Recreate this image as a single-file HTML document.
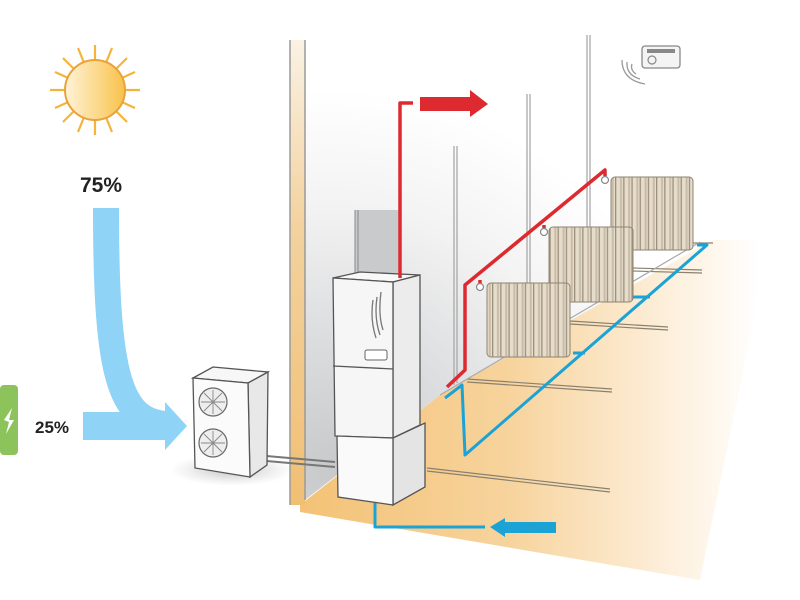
<!DOCTYPE html>
<html><head><meta charset="utf-8"><style>
html,body{margin:0;padding:0;background:#fff;}
svg{display:block;}
text{font-family:"Liberation Sans",Arial,sans-serif;font-weight:bold;fill:#222;}
</style></head><body>
<svg width="800" height="600" viewBox="0 0 800 600" xmlns="http://www.w3.org/2000/svg">
<defs>
<linearGradient id="sun" x1="0" y1="0" x2="1" y2="0"><stop offset="0" stop-color="#fff3d8"/><stop offset="1" stop-color="#f8c24a"/></linearGradient>
<radialGradient id="wall" cx="330" cy="470" r="380" gradientUnits="userSpaceOnUse"><stop offset="0" stop-color="#c8c9cb"/><stop offset="0.35" stop-color="#dcdddf"/><stop offset="0.7" stop-color="#f3f3f3"/><stop offset="1" stop-color="#ffffff"/></radialGradient>
<linearGradient id="floor" x1="300" y1="0" x2="760" y2="0" gradientUnits="userSpaceOnUse"><stop offset="0" stop-color="#f3c276"/><stop offset="0.45" stop-color="#f7d39c"/><stop offset="0.75" stop-color="#fcebd2"/><stop offset="1" stop-color="#ffffff"/></linearGradient>
<linearGradient id="strip" x1="0" y1="40" x2="0" y2="505" gradientUnits="userSpaceOnUse"><stop offset="0" stop-color="#faf2e4"/><stop offset="0.4" stop-color="#f3d29e"/><stop offset="1" stop-color="#f1bf74"/></linearGradient>
<radialGradient id="shadow" cx="0.5" cy="0.5" r="0.5"><stop offset="0" stop-color="#999" stop-opacity="0.6"/><stop offset="1" stop-color="#bbb" stop-opacity="0"/></radialGradient>
<pattern id="rad" width="8.2" height="10" patternUnits="userSpaceOnUse"><rect width="8.2" height="10" fill="#e6dccb"/><rect x="0" width="1.3" height="10" fill="#9c907c"/><rect x="5" width="2" height="10" fill="#c9bca6"/></pattern>
</defs>

<!-- wall -->
<polygon points="305,40 760,40 760,240 440,395 305,500" fill="url(#wall)"/>
<!-- floor -->
<polygon points="300,505 440,395 712,240 770,240 700,580 300,512" fill="url(#floor)"/>
<rect x="290" y="40" width="15" height="465" fill="url(#strip)"/>
<line x1="290" y1="40" x2="290" y2="505" stroke="#9a9a9a" stroke-width="1.5"/>
<line x1="305" y1="40" x2="305" y2="500" stroke="#9a9a9a" stroke-width="1.5"/>

<!-- vertical pipes -->
<g stroke="#a9a9a9" stroke-width="1.3">
<line x1="454" y1="146" x2="454" y2="385"/><line x1="457" y1="146" x2="457" y2="383"/>
<line x1="527" y1="94" x2="527" y2="290"/><line x1="530" y1="94" x2="530" y2="290"/>
<line x1="587" y1="35" x2="587" y2="230"/><line x1="590" y1="35" x2="590" y2="230"/>
</g>
<!-- floor lines -->
<g stroke="#8a8070" stroke-width="1.2">
<line x1="467" y1="379" x2="612" y2="389"/><line x1="467" y1="382" x2="612" y2="392"/>
<line x1="427" y1="468" x2="610" y2="489"/><line x1="427" y1="471" x2="610" y2="492"/>
<line x1="570" y1="321" x2="668" y2="327"/><line x1="570" y1="324" x2="668" y2="330"/>
<line x1="633" y1="268" x2="702" y2="270"/><line x1="633" y1="271" x2="702" y2="273"/>
<line x1="693" y1="243" x2="713" y2="243"/>
<line x1="440" y1="395" x2="700" y2="242" stroke="#aaa"/>
</g>

<!-- thermostat -->
<rect x="642" y="46" width="38" height="22" rx="3" fill="#f4f4f4" stroke="#888" stroke-width="1.3"/>
<rect x="647" y="49" width="28" height="4" fill="#888"/>
<circle cx="652" cy="60" r="4" fill="none" stroke="#888" stroke-width="1.2"/>
<g fill="none" stroke="#999" stroke-width="1.3">
<path d="M636,74 Q630,70 632,64"/><path d="M640,79 Q626,75 627,62"/><path d="M645,84 Q622,80 622,60"/>
</g>

<!-- sun -->
<g stroke="#f4b43c" stroke-width="2.2">
<line x1="95" y1="45" x2="95" y2="135"/><line x1="50" y1="90" x2="140" y2="90"/>
<line x1="63" y1="58" x2="127" y2="122"/><line x1="63" y1="122" x2="127" y2="58"/>
<line x1="78" y1="48" x2="112" y2="132"/><line x1="112" y1="48" x2="78" y2="132"/>
<line x1="55" y1="72" x2="135" y2="108"/><line x1="55" y1="108" x2="135" y2="72"/>
</g>
<circle cx="95" cy="90" r="30" fill="url(#sun)" stroke="#eaa23a" stroke-width="2"/>
<text x="80" y="192" font-size="21">75%</text>

<!-- blue arrows -->
<path d="M106,208 C106,370 118,420 165,424" fill="none" stroke="#8fd3f6" stroke-width="26"/>
<rect x="83" y="412" width="84" height="28" fill="#8fd3f6"/>
<polygon points="165,402 187,426 165,450" fill="#8fd3f6"/>
<rect x="0" y="385" width="18" height="70" rx="4" fill="#8cc35a"/>
<polygon points="4,420 12,408 9,420 14,420 6,434 9,422" fill="#fff"/>
<text x="35" y="433" font-size="17">25%</text>

<!-- outdoor unit -->
<ellipse cx="232" cy="470" rx="62" ry="16" fill="url(#shadow)"/>
<g stroke="#777" stroke-width="2"><line x1="255" y1="455" x2="335" y2="462"/><line x1="255" y1="460" x2="335" y2="467"/></g>
<polygon points="193,378 213,367 268,372 248,383" fill="#f7f7f7" stroke="#555" stroke-width="1.3"/>
<polygon points="248,383 268,372 267,465 250,477" fill="#e8e8e8" stroke="#555" stroke-width="1.3"/>
<polygon points="193,378 248,383 250,477 195,468" fill="#fbfbfb" stroke="#555" stroke-width="1.3"/>
<g fill="#eee" stroke="#666" stroke-width="1.2">
<circle cx="213" cy="402" r="14"/><circle cx="213" cy="443" r="14"/>
</g>
<g stroke="#888" stroke-width="0.9">
<path d="M201,402h24M213,390v24M204,393l18,18M204,411l18,-18"/>
<path d="M201,443h24M213,431v24M204,434l18,18M204,452l18,-18"/>
</g>

<!-- grey panel behind unit -->
<rect x="355" y="210" width="45" height="65" fill="#c9cacc"/>
<line x1="355" y1="210" x2="355" y2="275" stroke="#888"/><line x1="358" y1="210" x2="358" y2="275" stroke="#888"/>

<!-- indoor unit -->
<polygon points="333,278 360,272 420,275 393,282" fill="#f8f8f8" stroke="#555" stroke-width="1.3"/>
<polygon points="393,282 420,275 420,425 393,438" fill="#ececec" stroke="#555" stroke-width="1.3"/>
<polygon points="333,278 393,282 393,438 335,436" fill="#f6f6f6" stroke="#555" stroke-width="1.3"/>
<line x1="333" y1="366" x2="393" y2="369" stroke="#555" stroke-width="1.3"/>
<rect x="365" y="350" width="22" height="10" rx="2" fill="#fff" stroke="#666"/>
<path d="M373,300 Q370,320 376,338 M377,297 Q374,318 380,335 M381,292 Q378,315 383,330" fill="none" stroke="#777" stroke-width="1.3"/>
<polygon points="393,438 425,423 425,487 393,505" fill="#e4e4e4" stroke="#555" stroke-width="1.3"/>
<polygon points="337,436 393,438 393,505 338,497" fill="#fafafa" stroke="#555" stroke-width="1.3"/>

<!-- red pipes -->
<g fill="none" stroke="#dd2a30" stroke-width="3.5" stroke-linejoin="round">
<path d="M400,278 V103 H413"/>
<path d="M447,387 L465,370 V285 L605,170 V176"/>
<path d="M480,280 V284"/><path d="M544,225 V229"/>
</g>
<polygon points="420,97 470,97 470,90 488,104 470,117 470,111 420,111" fill="#dd2a30"/>
<g fill="#fff" stroke="#888" stroke-width="1.2">
<circle cx="480" cy="287" r="3.5"/><circle cx="544" cy="232" r="3.5"/><circle cx="605" cy="180" r="3.5"/>
</g>

<!-- radiators -->
<rect x="611" y="177" width="82" height="73" rx="4" fill="url(#rad)" stroke="#8f8472"/>
<rect x="549" y="227" width="84" height="75" rx="4" fill="url(#rad)" stroke="#8f8472"/>
<rect x="487" y="283" width="83" height="74" rx="4" fill="url(#rad)" stroke="#8f8472"/>

<!-- blue pipes -->
<g fill="none" stroke="#1ba3d6" stroke-width="3" stroke-linejoin="round">
<path d="M445,398 L462,385 L465,455 L707,245 H697"/>
<path d="M573,353 H585"/><path d="M633,297 H650"/>
<path d="M375,503 V527 H485"/>
</g>
<polygon points="490,527 505,518 505,522 556,522 556,533 505,533 505,537" fill="#1ba3d6"/>
</svg>
</body></html>
